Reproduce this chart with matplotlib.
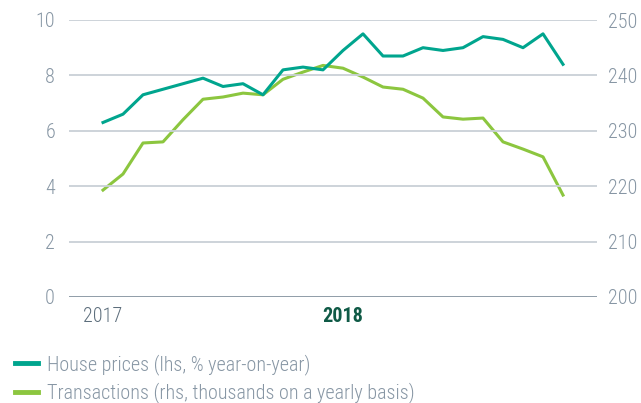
import numpy as np
import matplotlib.pyplot as plt
from matplotlib.lines import Line2D

plt.rcParams['font.family'] = ['Roboto Condensed', 'Roboto', 'DejaVu Sans']
plt.rcParams['font.weight'] = 'light'

# monthly observations, Jan 2017 - Dec 2018
months = np.arange(24)
house_prices = [6.3, 6.6, 7.3, 7.5, 7.7, 7.9, 7.6, 7.7, 7.3, 8.2, 8.3, 8.2,
                8.9, 9.5, 8.7, 8.7, 9.0, 8.9, 9.0, 9.4, 9.3, 9.0, 9.5, 8.4]
transactions = [219.3, 222.2, 227.8, 228.0, 232.0, 235.7, 236.1, 236.8, 236.5, 239.3, 240.6, 241.8,
                241.3, 239.7, 237.9, 237.5, 235.9, 232.5, 232.1, 232.3, 228.0, 226.7, 225.3, 218.4]
year_pos = [0, 12]
year_labels = ['2017', '2018']
left_ticks = [0, 2, 4, 6, 8, 10]
right_ticks = [200, 210, 220, 230, 240, 250]

teal = '#00a58e'
green = '#8cc63f'
grey_txt = '#8796a4'
grid_c = '#c9d0d7'

fig = plt.figure(figsize=(6.41, 4.03), dpi=100)
ax = fig.add_axes([69/641, 1 - 297/403, (597 - 69)/641, (297 - 20)/403])
ax2 = ax.twinx()

ax.set_xlim(-1.7, 24.7)
ax.set_ylim(0, 10)
ax2.set_ylim(200, 250)

for v in left_ticks[1:]:
    ax.axhline(v, color=grid_c, lw=1.3, zorder=0)
ax.axhline(0, color='#6f808e', lw=1.8, zorder=1)

ax.plot(months, house_prices, color=teal, lw=2.2, zorder=3)
ax2.plot(months, transactions, color=green, lw=2.2, zorder=2)
ax.set_zorder(ax2.get_zorder() + 1)
ax.patch.set_visible(False)

for a in (ax, ax2):
    for s in a.spines.values():
        s.set_visible(False)
    a.tick_params(length=0, labelsize=14.5, labelcolor=grey_txt)

ax.set_yticks(left_ticks)
ax2.set_yticks(right_ticks)
ax.tick_params(axis='y', pad=10)
ax2.tick_params(axis='y', pad=8)

ax.set_xticks(year_pos)
ax.set_xticklabels(year_labels)
ax.tick_params(axis='x', pad=7, labelsize=14.5)
xl = ax.get_xticklabels()
xl[0].set_color('#5d6e7c')
xl[1].set_color('#0f5a46')
xl[1].set_fontweight('bold')

handles = [Line2D([], [], color=teal, lw=3.5),
           Line2D([], [], color=green, lw=3.5)]
fig.legend(handles, ['House prices (lhs, % year-on-year)',
                     'Transactions (rhs, thousands on a yearly basis)'],
           loc='upper left', bbox_to_anchor=(0.011, 0.141), frameon=False,
           fontsize=14.5, labelcolor=grey_txt, handlelength=1.15,
           handletextpad=0.45, labelspacing=0.35, borderaxespad=0)

fig.savefig('out.png', dpi=100)
